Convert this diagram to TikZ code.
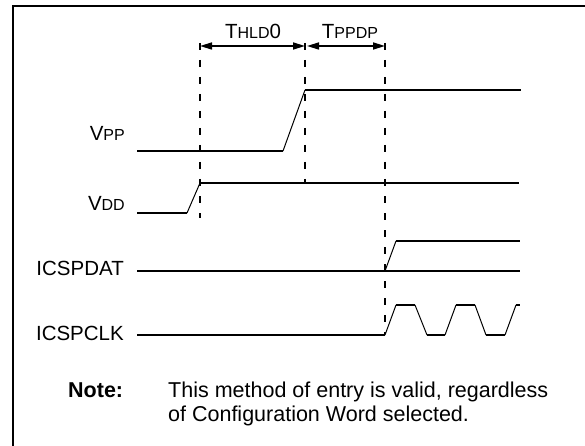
\documentclass[tikz,border=0pt]{standalone}
\usepackage{fontspec}
\setmainfont{Liberation Sans}
\usetikzlibrary{arrows.meta}
\newcommand\lblfont{\fontsize{20.5}{24}\selectfont}
\newcommand\subfont{\fontsize{16}{19}\selectfont}
\newcommand\notefont{\fontsize{21.5}{24}\selectfont}
\tikzset{
  frame/.style={line width=2pt},
  sig/.style={line width=1.8pt},
  slope/.style={line width=1pt},
  guide/.style={line width=1.8pt, dash pattern=on 7pt off 10pt},
  dim/.style={line width=1.6pt, {Triangle[length=12pt,width=7pt]}-{Triangle[length=12pt,width=7pt]}},
  lbl/.style={inner sep=0pt, anchor=base east, font=\lblfont},
  tlbl/.style={inner sep=0pt, anchor=base, font=\lblfont},
}
\begin{document}
\begin{tikzpicture}[x=1pt,y=-1pt]
\useasboundingbox (0,0) rectangle (585,446);
\draw[frame] (12.7,446) -- (12.7,6.5) -- (585,6.5);

% key coordinates
\coordinate (a0) at (200,46);
\coordinate (a1) at (305,46);
\coordinate (a2) at (385,46);
\coordinate (d0) at (200,218);
\coordinate (d1) at (305,184);
\coordinate (d2) at (385,334);

% dimension arrows
\draw[dim] (a0) -- (a1);
\draw[dim] ([xshift=2pt]a1) -- (a2);
\node[tlbl] (thld) at (253,39) {T{\subfont HLD}0};
\node[tlbl] (tppdp) at (350,39) {T{\subfont PPDP}};

% guides
\draw[guide] ([yshift=3pt]a0) -- (d0);
\draw[guide] ([yshift=3pt]a1) -- (d1);
\draw[guide] ([yshift=3pt]a2) -- (d2);

% VPP
\coordinate (p0) at (137,151);
\coordinate (p1) at (283,151);
\coordinate (p2) at (305,90);
\coordinate (p3) at (521,90);
\draw[sig] (p0) -- (p1);
\draw[slope] (p1) -- (p2);
\draw[sig] (p2) -- (p3);
\node[lbl] (vpp) at (125,141) {V{\subfont PP}};

% VDD
\coordinate (v0) at (137,213);
\coordinate (v1) at (187,213);
\coordinate (v2) at (200,183);
\coordinate (v3) at (519,183);
\draw[sig] (v0) -- (v1);
\draw[slope] (v1) -- (v2);
\draw[sig] (v2) -- (v3);
\node[lbl] (vdd) at (125,211) {V{\subfont DD}};

% ICSPDAT
\coordinate (s0) at (137,271);
\coordinate (s1) at (385,271);
\coordinate (s2) at (520,271);
\coordinate (s3) at (396,241);
\coordinate (s4) at (520,241);
\draw[sig] (s0) -- (s2);
\draw[slope] (s1) -- (s3);
\draw[sig] (s3) -- (s4);
\node[lbl] (dat) at (124,275) {ICSPDAT};

% ICSPCLK
\coordinate (c0) at (137,335);
\coordinate (c1) at (385,335);
\coordinate (c2) at (396,305);
\coordinate (c3) at (415,305);
\coordinate (c4) at (427,335);
\coordinate (c5) at (445,335);
\coordinate (c6) at (456,305);
\coordinate (c7) at (475,305);
\coordinate (c8) at (486,335);
\coordinate (c9) at (505,335);
\coordinate (c10) at (516,305);
\coordinate (c11) at (520,305);
\draw[sig] (c0) -- (c1);
\draw[slope] (c1) -- (c2);
\draw[sig] (c2) -- (c3);
\draw[slope] (c3) -- (c4);
\draw[sig] (c4) -- (c5);
\draw[slope] (c5) -- (c6);
\draw[sig] (c6) -- (c7);
\draw[slope] (c7) -- (c8);
\draw[sig] (c8) -- (c9);
\draw[slope] (c9) -- (c10);
\draw[sig] (c10) -- (c11);
\node[lbl] (clk) at (124,340) {ICSPCLK};

% note
\node[inner sep=0pt, anchor=base west, font=\notefont\bfseries] (nt) at (68,397) {Note:};
\node[inner sep=0pt, anchor=base west, font=\notefont] (n1) at (168,397) {This method of entry is valid, regardless};
\node[inner sep=0pt, anchor=base west, font=\notefont] (n2) at (168,421) {of Configuration Word selected.};
\end{tikzpicture}
\end{document}
